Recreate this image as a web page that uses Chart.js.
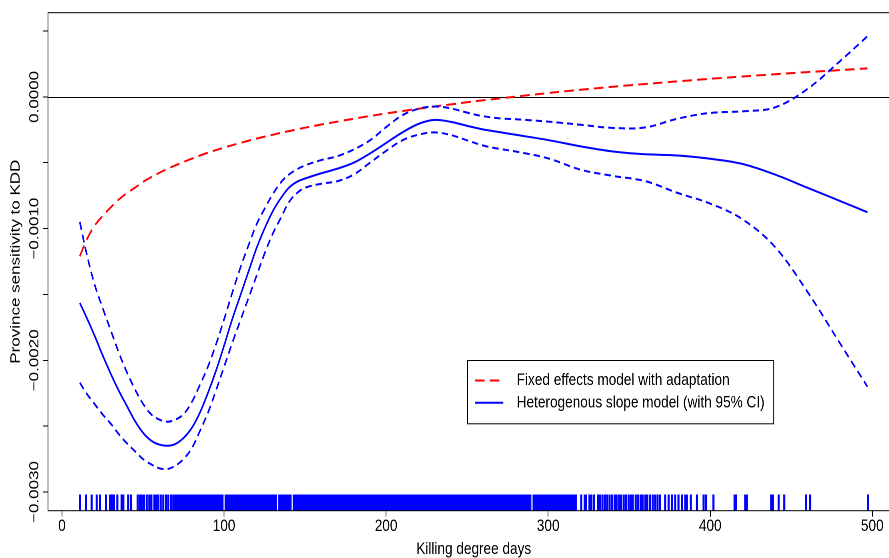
<!DOCTYPE html>
<html>
<head>
<meta charset="utf-8">
<script src="https://cdn.jsdelivr.net/npm/chart.js"></script>
<style>
html,body{margin:0;padding:0;overflow:hidden;background:#fff;width:889px;height:558px}
#wrap{width:1160px;height:558px;transform:scaleX(0.8);transform-origin:0 0}
canvas{display:block}
</style>
</head>
<body>
<div id="wrap"><canvas id="c" width="1160" height="558"></canvas></div>
<script>
// ---- data ----
const kdd = [11,15,20,25,30,35,40,45,50,55,60,65,70,75,80,85,90,95,100,105,110,115,120,125,130,135,140,145,150,160,170,180,190,200,210,220,230,240,250,260,270,280,300,320,340,360,380,400,420,440,460,480,497];

const fixedEffects = [-0.00121,-0.00109,-0.00098,-0.000905,-0.00084,-0.00078,-0.00073,-0.00069,-0.000645,-0.00061,
  -0.000577,-0.000547,-0.00052,-0.000494,-0.00047,-0.000446,-0.000424,-0.000404,-0.000385,-0.000367,
  -0.00035,-0.000333,-0.000317,-0.000302,-0.000288,-0.000273,-0.00026,-0.000247,-0.000234,-0.00021,
  -0.000188,-0.000166,-0.000145,-0.000126,-0.000108,-0.00009,-0.000073,-0.000057,-0.000041,-0.000026,
  -0.000012,0.000002,0.000029,0.000054,0.000077,0.000098,0.000118,0.000137,0.000155,0.000172,
  0.000188,0.000203,0.000216];

const heteroFit = [-0.001565,-0.00167,-0.00181,-0.00196,-0.0021,-0.00223,-0.002346,-0.00246,-0.00255,-0.00261,
  -0.00264,-0.002649,-0.002635,-0.00259,-0.002515,-0.0024,-0.00225,-0.00208,-0.00189,-0.00169,
  -0.00151,-0.00133,-0.00115,-0.001,-0.00087,-0.00077,-0.00069,-0.000645,-0.00062,-0.00058,
  -0.000545,-0.0005,-0.00043,-0.00035,-0.00027,-0.000205,-0.000175,-0.00019,-0.00022,-0.000248,
  -0.000268,-0.000288,-0.000328,-0.000376,-0.000415,-0.000436,-0.000445,-0.00047,-0.00051,-0.00059,
  -0.00069,-0.00079,-0.000876];

const heteroUpper = [-0.00095,-0.00118,-0.00142,-0.0016,-0.00177,-0.00194,-0.00209,-0.00222,-0.00233,-0.00241,
  -0.00245,-0.002467,-0.00245,-0.00241,-0.00232,-0.00219,-0.00205,-0.00188,-0.00169,-0.00149,
  -0.0013,-0.00113,-0.00097,-0.00085,-0.00074,-0.00065,-0.00059,-0.00055,-0.00052,-0.00048,
  -0.00045,-0.0004,-0.00033,-0.00023,-0.00014,-0.00009,-0.000073,-0.000088,-0.00012,-0.000147,
  -0.000163,-0.00017,-0.000188,-0.000212,-0.000236,-0.000232,-0.000165,-0.000122,-0.00011,-0.00008,
  0.00006,0.00027,0.00046];

const heteroLower = [-0.00217,-0.00225,-0.00233,-0.00241,-0.00248,-0.00256,-0.00263,-0.00269,-0.00275,-0.00279,
  -0.00282,-0.002826,-0.0028,-0.00275,-0.00267,-0.00254,-0.0024,-0.00223,-0.00205,-0.00187,
  -0.0017,-0.00153,-0.00136,-0.00119,-0.00104,-0.00092,-0.0008,-0.00073,-0.00069,-0.00066,
  -0.00064,-0.00059,-0.0005,-0.00041,-0.00033,-0.000287,-0.00027,-0.00029,-0.00033,-0.00037,
  -0.000395,-0.000415,-0.000467,-0.000553,-0.0006,-0.00064,-0.00073,-0.00081,-0.00093,-0.00114,
  -0.00148,-0.00187,-0.0022];

// observed KDD values shown as a rug along the bottom
const rugKdd = [11.1,14.8,18.3,21.4,23.5,27.2,29.6,30.7,32.1,34.2,36.8,37.9,40.9,42.6,
  46.7,48.1,49.2,50.5,52.3,53.9,55.2,57,58,59.4,60.9,62.5,64.2,65.6,67.3,68.7,
  70,71,72,73,74,75,76,77,78,79,80,81,82,83,84,85,86,87,88,89,90,91,92,93,94,95,96,97,98,99,
  101,102,103,104,105,106,107,108,109,110,111,112,113,114,115,116,117,118,119,120,121,122,123,124,125,126,127,128,129,130,131,132,
  134,135,136,137,138,139,140,141,
  143,144,145,146,147,148,149,150,151,152,153,154,155,156,157,158,159,160,161,162,163,164,165,166,167,168,169,170,
  171,172,173,174,175,176,177,178,179,180,181,182,183,184,185,186,187,188,189,190,191,192,193,194,195,196,197,198,199,200,
  201,202,203,204,205,206,207,208,209,210,211,212,213,214,215,216,217,218,219,220,221,222,223,224,225,226,227,228,229,230,
  231,232,233,234,235,236,237,238,239,240,241,242,243,244,245,246,247,248,249,250,251,252,253,254,255,256,257,258,259,260,
  261,262,263,264,265,266,267,268,269,270,271,272,273,274,275,276,277,278,279,280,281,282,283,284,285,286,287,288,289,
  291,292,293,294,295,296,297,298,299,300,301,302,303,304,305,306,307,308,309,310,311,312,313,314,315,316,317,
  320.4,322.5,323.4,325.5,326.7,328.2,330.8,332,333.5,335,336.4,337.9,339.5,341,342.2,343.8,345,346.6,348,349.6,
  351,352.2,354,355.5,357,358.3,360,361.2,362.8,364.5,366,367.5,369,
  372.2,374.3,376.3,378.4,380.4,382.5,384.6,385.6,388,391.8,395.9,397.5,402,415,416,421.6,422.6,437.6,438.7,442.2,445.7,459,461.7,497.3];
const rugLevel = -0.00308;

const xTickValues = [0,100,200,300,400,500];
const yTickValues = [-0.003,-0.0025,-0.002,-0.0015,-0.001,-0.0005,0,0.0005];
const yLabelValues = [-0.003,-0.002,-0.001,0];
const yTickLabels = ['\u22120.0030','\u22120.0020','\u22120.0010','0.0000'];

const seriesNames = ['Fixed effects model with adaptation','Heterogenous slope model (with 95% CI)'];
const xTitle = 'Killing degree days';
const yTitle = 'Province sensitivity to KDD';

// ---- chart ----
const FAM = "'Liberation Sans', Arial, Helvetica, sans-serif";
const RED = '#ff0000', BLUE = '#0000ff';
const pts = arr => kdd.map((x, i) => ({x, y: arr[i]}));

const framePlugin = {
  id: 'frame',
  beforeDatasetsDraw(chart) {
    const {ctx, chartArea: a, scales: {y}} = chart;
    const py = Math.round(y.getPixelForValue(0)) + 0.5;
    ctx.save();
    ctx.strokeStyle = '#000'; ctx.lineWidth = 1;
    ctx.beginPath(); ctx.moveTo(a.left, py); ctx.lineTo(a.right, py); ctx.stroke();
    ctx.restore();
  },
  afterDraw(chart) {
    const {ctx, chartArea: a, scales: {y}} = chart;
    ctx.save();
    ctx.strokeStyle = '#000'; ctx.lineWidth = 1;
    ctx.strokeRect(a.left, a.top, a.right - a.left, a.bottom - a.top);
    ctx.fillStyle = '#000';
    ctx.font = '17px ' + FAM;
    yLabelValues.forEach((v, i) => {
      const py = y.getPixelForValue(v);
      ctx.save();
      ctx.translate(a.left - 12.1, py);
      ctx.rotate(-Math.PI / 2);
      ctx.textAlign = 'center'; ctx.textBaseline = 'alphabetic';
      ctx.fillText(yTickLabels[i], 0, 0);
      ctx.restore();
    });
    // legend
    const lx = 584, ly = 360, lw = 382.6, lh = 63.3;
    ctx.fillStyle = '#fff';
    ctx.fillRect(lx, ly, lw, lh);
    ctx.strokeStyle = '#000'; ctx.lineWidth = 1;
    ctx.strokeRect(lx + 0.5, ly + 0.5, lw, lh);
    const items = [chart.data.datasets[4], chart.data.datasets[0]];
    items.forEach((ds, i) => {
      const cy = 380.5 + i * 22.3;
      ctx.save();
      ctx.strokeStyle = ds.borderColor; ctx.lineWidth = ds.borderWidth;
      ctx.setLineDash(ds.borderDash || []);
      ctx.beginPath(); ctx.moveTo(593.7, cy); ctx.lineTo(629.1, cy); ctx.stroke();
      ctx.restore();
      ctx.fillStyle = '#000';
      ctx.font = '17px ' + FAM;
      ctx.textAlign = 'left'; ctx.textBaseline = 'middle';
      ctx.fillText(ds.label, 645.9, cy);
    });
    ctx.restore();
  }
};

const lineDefaults = {showLine: true, pointRadius: 0, tension: 0.35, fill: false, borderWidth: 2};

new Chart(document.getElementById('c'), {
  type: 'scatter',
  data: {
    datasets: [
      Object.assign({label: seriesNames[1], data: pts(heteroFit), borderColor: BLUE}, lineDefaults),
      Object.assign({label: 'upper 95% CI', data: pts(heteroUpper), borderColor: BLUE, borderDash: [8, 5]}, lineDefaults),
      Object.assign({label: 'lower 95% CI', data: pts(heteroLower), borderColor: BLUE, borderDash: [8, 5]}, lineDefaults),
      {label: 'rug', data: rugKdd.map(v => ({x: v, y: rugLevel})), showLine: false,
       pointStyle: 'line', pointRotation: 90, pointRadius: 8, pointBorderWidth: 2.6,
       pointBorderColor: BLUE, borderColor: BLUE, pointHoverRadius: 8},
      Object.assign({label: seriesNames[0], data: pts(fixedEffects), borderColor: RED, borderDash: [12, 6.5]}, lineDefaults)
    ]
  },
  options: {
    responsive: false,
    devicePixelRatio: 2,
    animation: false,
    events: [],
    layout: {padding: {left: 0, right: 35.7, top: 12.7, bottom: 0}},
    plugins: {legend: {display: false}, tooltip: {enabled: false}},
    scales: {
      x: {
        type: 'linear', position: 'bottom', min: -8.64, max: 516.75,
        afterBuildTicks: s => { s.ticks = xTickValues.map(v => ({value: v})); },
        afterFit: s => { s.height = 47.3; },
        grid: {display: true, drawOnChartArea: false, drawTicks: true, tickLength: 6, color: '#000', lineWidth: 1},
        border: {display: false},
        ticks: {font: {family: FAM, size: 17, lineHeight: 1}, color: '#000', padding: 1,
                maxRotation: 0, minRotation: 0, autoSkip: false, callback: v => String(v)},
        title: {display: true, text: xTitle, color: '#000',
                font: {family: FAM, size: 17, lineHeight: 1}, padding: {top: 0, bottom: 0.4}}
      },
      y: {
        type: 'linear', position: 'left', min: -0.003142, max: 0.000639,
        afterBuildTicks: s => { s.ticks = yTickValues.map(v => ({value: v})); },
        afterFit: s => { s.width = 60; },
        grid: {display: true, drawOnChartArea: false, drawTicks: true, tickLength: 6, color: '#000', lineWidth: 1},
        border: {display: false},
        ticks: {display: false},
        title: {display: true, text: yTitle, color: '#000',
                font: {family: FAM, size: 17, lineHeight: 1}, padding: {top: 11.5, bottom: 0}}
      }
    }
  },
  plugins: [framePlugin]
});
</script>
</body>
</html>
